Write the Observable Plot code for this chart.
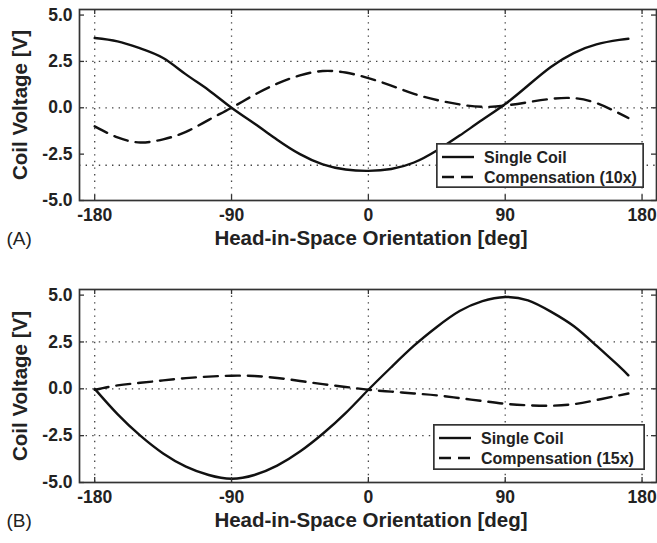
<!DOCTYPE html>
<html><head><meta charset="utf-8">
<script src="https://cdn.jsdelivr.net/npm/d3@7"></script>
<script src="https://cdn.jsdelivr.net/npm/@observablehq/plot@0.6"></script>
<style>
body{margin:0;background:#fff;font-family:"Liberation Sans",Arial,Helvetica,sans-serif;}
#fig{position:relative;width:657px;height:543px;overflow:hidden;}
.panel{position:absolute;left:0;}
.panel svg{display:block;}
.legend{position:absolute;}
</style></head><body><div id="fig"></div>
<script>
// Head-in-space orientation (deg)
const angles = [-180,-165,-150,-135,-120,-105,-90,-75,-60,-45,-30,-15,0,15,30,45,60,75,90,105,120,135,150,165,171];
// Panel A
const singleA = [3.76,3.58,3.2,2.68,1.8,0.95,0.0,-0.85,-1.72,-2.5,-3.05,-3.33,-3.4,-3.3,-2.95,-2.3,-1.5,-0.65,0.2,1.2,2.2,2.95,3.42,3.66,3.72];
const compA   = [-1.0,-1.6,-1.87,-1.7,-1.3,-0.65,0.0,0.7,1.3,1.75,1.98,1.9,1.6,1.2,0.75,0.42,0.18,0.05,0.12,0.3,0.48,0.52,0.25,-0.3,-0.55];
// Panel B
const singleB = [0.0,-1.35,-2.5,-3.45,-4.15,-4.6,-4.8,-4.6,-4.1,-3.35,-2.4,-1.3,-0.05,1.15,2.3,3.3,4.15,4.68,4.9,4.72,4.12,3.35,2.3,1.2,0.72];
const compB   = [-0.05,0.18,0.32,0.45,0.57,0.65,0.7,0.68,0.58,0.42,0.25,0.1,-0.05,-0.15,-0.25,-0.35,-0.5,-0.65,-0.8,-0.88,-0.9,-0.82,-0.6,-0.35,-0.25];
// Ticks and labels
const xTicks = [-180,-90,0,90,180];
const yTicks = [-5,-2.5,0,2.5,5];
const gridYA = [2.5,0,-3.1];
const gridYB = [2.5,0,-2.5];
const seriesNames = ["Single Coil","Compensation (10x)","Compensation (15x)"];
const panelLabels = ["(A)","(B)"];
const xLabel = "Head-in-Space Orientation [deg]";
const yLabel = "Coil Voltage [V]";

const W = 657, ML = 79, MR = 1;
const FONT = '"Liberation Sans", Arial, Helvetica, sans-serif';

function panel({single, comp, gridY, tag, compName, top, height, marginTop, marginBottom, legendBox}) {
  const data = angles.map((a, i) => ({a, s: single[i], c: comp[i]}));
  const frameW = W - ML - MR;
  const frameH = height - marginTop - marginBottom;
  const dot = {stroke: "#444", strokeWidth: 1.3, strokeDasharray: "1.4,5.2"};
  const plot = Plot.plot({
    width: W, height, marginLeft: ML, marginRight: MR, marginTop, marginBottom,
    style: {fontFamily: FONT, background: "#fff", overflow: "visible", color: "#222"},
    x: {domain: [-190, 189.5]},
    y: {domain: [-5, 5.3]},
    marks: [
      Plot.ruleX(xTicks, {x: d => d, ...dot}),
      Plot.ruleY(gridY, {y: d => d, ...dot}),
      Plot.line(data, {x: "a", y: "c", stroke: "#111", strokeWidth: 2.4, strokeDasharray: "14,8", curve: "natural"}),
      Plot.line(data, {x: "a", y: "s", stroke: "#111", strokeWidth: 2.4, curve: "natural"}),
      Plot.tickX(xTicks, {x: d => d, insetTop: frameH - 5, stroke: "#333", strokeWidth: 1.3}),
      Plot.tickX(xTicks, {x: d => d, insetBottom: frameH - 5, stroke: "#333", strokeWidth: 1.3}),
      Plot.tickY(yTicks, {y: d => d, insetRight: frameW - 5, stroke: "#333", strokeWidth: 1.3}),
      Plot.tickY(yTicks, {y: d => d, insetLeft: frameW - 5, stroke: "#333", strokeWidth: 1.3}),
      Plot.frame({stroke: "#333", strokeWidth: 1.7}),
      Plot.axisX(xTicks, {tickSize: 0, tickPadding: 8, tickFormat: d => String(d), label: null, fontSize: 17.5, fontWeight: "bold", fill: "#222"}),
      Plot.axisY(yTicks, {tickSize: 0, tickPadding: 7, tickFormat: d => d.toFixed(1), label: null, fontSize: 17.5, fontWeight: "bold", fill: "#222"}),
      Plot.text([xLabel], {frameAnchor: "bottom", dy: 44, dx: 3, text: d => d, textAnchor: "middle", fontSize: 20.5, fontWeight: "bold", fill: "#222"}),
      Plot.text([yLabel], {frameAnchor: "left", dx: -59, rotate: -90, text: d => d, textAnchor: "middle", fontSize: 20.5, fontWeight: "bold", fill: "#222"}),
      Plot.text([tag], {frameAnchor: "bottom-left", dx: -73, dy: 44, text: d => d, textAnchor: "start", fontSize: 19, fontWeight: "normal", fill: "#222"})
    ]
  });
  const div = document.createElement("div");
  div.className = "panel";
  div.style.top = top + "px";
  div.appendChild(plot);
  // legend overlay
  const lg = d3.create("svg")
    .attr("class", "legend")
    .attr("width", legendBox.w).attr("height", legendBox.h)
    .style("left", legendBox.x + "px").style("top", legendBox.y + "px")
    .style("font-family", FONT);
  lg.append("rect").attr("x", 0.85).attr("y", 0.85).attr("width", legendBox.w - 1.7).attr("height", legendBox.h - 1.7)
    .attr("fill", "#fff").attr("stroke", "#333").attr("stroke-width", 1.7);
  const rows = [{name: seriesNames[0], dash: null}, {name: compName, dash: "12,7"}];
  rows.forEach((r, i) => {
    const y = 14 + i * 20;
    lg.append("line").attr("x1", 6).attr("x2", 38).attr("y1", y).attr("y2", y)
      .attr("stroke", "#111").attr("stroke-width", 2.4).attr("stroke-dasharray", r.dash);
    lg.append("text").attr("x", 48).attr("y", y).attr("dy", "0.36em")
      .attr("font-size", 16).attr("font-weight", "bold").attr("fill", "#222").text(r.name);
  });
  div.appendChild(lg.node());
  document.getElementById("fig").appendChild(div);
}

panel({single: singleA, comp: compA, gridY: gridYA, tag: panelLabels[0], compName: seriesNames[1],
  top: 0, height: 270, marginTop: 9, marginBottom: 70, legendBox: {x: 436, y: 143, w: 208, h: 45}});
panel({single: singleB, comp: compB, gridY: gridYB, tag: panelLabels[1], compName: seriesNames[2],
  top: 270, height: 273, marginTop: 19, marginBottom: 61, legendBox: {x: 433, y: 154, w: 212, h: 46}});
</script></body></html>
